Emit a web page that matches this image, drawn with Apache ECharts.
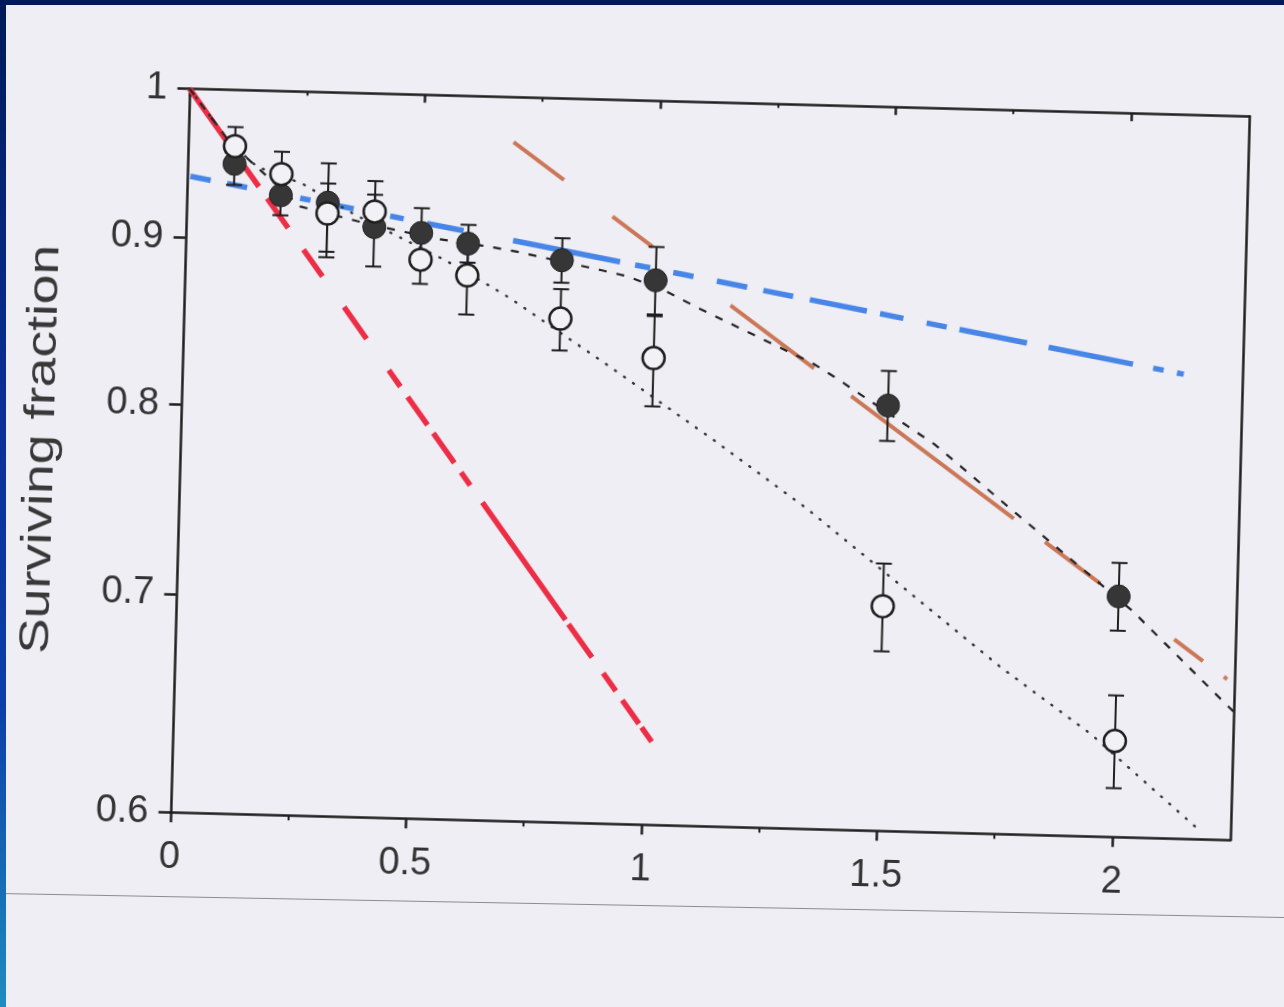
<!DOCTYPE html>
<html>
<head>
<meta charset="utf-8">
<script src="https://cdn.jsdelivr.net/npm/echarts@6/dist/echarts.min.js"></script>
<style>
html,body{margin:0;padding:0;width:1284px;height:1007px;overflow:hidden;background:#eeeef4;}
#frameTop{position:absolute;left:0;top:0;width:1284px;height:5px;background:#001a57;z-index:5;}
#frameLeft{position:absolute;left:0;top:0;width:6px;height:1007px;background:linear-gradient(#001a57 0%,#0a2f96 40%,#0b3fa8 70%,#1f8cc0 100%);z-index:5;}
#fold{position:absolute;left:0;top:893px;width:1290px;height:0;border-top:1.5px solid #8c8c92;transform-origin:0 0;transform:rotate(1.07deg);z-index:4;}
#chart{position:absolute;left:0;top:0;width:1284px;height:1007px;transform-origin:709.75px 464.25px;transform:rotate(1.5deg);}
</style>
</head>
<body>
<div id="chart"></div>
<div id="fold"></div>
<div id="frameTop"></div>
<div id="frameLeft"></div>
<script>
// ---- axis ticks ----
const xTicks = [0, 0.5, 1, 1.5, 2];
const xTickLabels = ['0', '0.5', '1', '1.5', '2'];
const xMinorTicks = [0.25, 0.75, 1.25, 1.75];
const yTicks = [0.6, 0.7, 0.8, 0.9, 1];
const yTickLabels = ['0.6', '0.7', '0.8', '0.9', '1'];

// ---- measured points (dose in Gy) ----
const dose = [0.1, 0.2, 0.3, 0.4, 0.5, 0.6, 0.8, 1.0, 1.5, 2.0];
const filledY  = [0.949, 0.929, 0.925, 0.910, 0.907, 0.901, 0.892, 0.881, 0.810, 0.711];
const filledLo = [0.935, 0.916, 0.8935, 0.885, 0.891, 0.889, 0.878, 0.859, 0.790, 0.694];
const filledHi = [0.963, 0.942, 0.951, 0.940, 0.923, 0.913, 0.906, 0.902, 0.830, 0.728];
const openY    = [0.961, 0.943, 0.918, 0.920, 0.890, 0.881, 0.856, 0.834, 0.703, 0.642];
const openLo   = [0.947, 0.928, 0.890, 0.911, 0.875, 0.857, 0.837, 0.806, 0.681, 0.621];
const openHi   = [0.974, 0.958, 0.9376, 0.931, 0.905, 0.905, 0.874, 0.860, 0.7245, 0.663];

// ---- printed fit curves ----
const dashedFitX = [0, 0.09, 0.242, 0.4, 0.537, 0.654, 0.705, 0.883, 0.94, 1.018, 1.097, 1.34, 1.383, 1.6, 1.78, 2.03, 2.23, 2.25];
const dashedFitY = [1.0, 0.963, 0.922, 0.911, 0.9034, 0.899, 0.8966, 0.8865, 0.883, 0.875, 0.864, 0.833, 0.826, 0.789, 0.752, 0.704, 0.661, 0.657];
const dottedFitX = [0, 0.09, 0.148, 0.245, 0.356, 0.553, 0.635, 0.693, 0.909, 1.132, 1.334, 1.753, 1.948, 2.183];
const dottedFitY = [1.0, 0.963, 0.9475, 0.937, 0.918, 0.890, 0.877, 0.8675, 0.828, 0.788, 0.752, 0.675, 0.645, 0.604];

// ---- hand-drawn marker lines ----
const redX = [0, 1.018];
const redY = [1.0, 0.636];
const blueX = [0.007, 2.126];
const blueY = [0.940, 0.8326];
const brownX = [0.691, 2.235];
const brownY = [0.9687, 0.672];

// dash patterns of the hand-drawn strokes (px)
const redDash = [68.6,20.4,31.2,14.6,36.1,26.6,32.8,37.5,38.9,38.5,20,12.6,34.4,10,36.5,11.6,15.8,21.1,143.9,5.1,40.7,19.4,21.9,11.1,28.9,4.6,17.4,50];
const blueDash = [20.7,16.7,20.4,54.1,10.5,27.2,16.9,37.2,13.8,23.9,37.2,50.4,109.1,15.4,15.3,23.6,20.6,23.8,30.9,16.5,30.4,17,58.2,13.4,23.8,23.7,20.5,13,68.8,22.1,86,20.6,10.7,13.6,6.9,50];
const brownDash = [63,60.7,50.3,97.4,104.6,46.4,203.6,39,69.3,92.5,36,26.2,4,50];

const zip = (xs, ys) => xs.map((x, i) => [x, ys[i]]);
const FONT = 'Liberation Sans, Arial, sans-serif';
const INK = '#1e1e1e';
const LABEL = '#333333';

function labelFrom(vals, labels) {
  return function (v) {
    for (let i = 0; i < vals.length; i++) if (Math.abs(vals[i] - v) < 1e-6) return labels[i];
    return '';
  };
}

function errRender(params, api) {
  const x = api.value(0), lo = api.value(1), hi = api.value(2);
  const a = api.coord([x, lo]), b = api.coord([x, hi]);
  const hw = 8;
  const style = { stroke: INK, lineWidth: 2, fill: null };
  return {
    type: 'group',
    children: [
      { type: 'line', shape: { x1: a[0], y1: a[1], x2: b[0], y2: b[1] }, style: style },
      { type: 'line', shape: { x1: a[0] - hw, y1: a[1], x2: a[0] + hw, y2: a[1] }, style: style },
      { type: 'line', shape: { x1: b[0] - hw, y1: b[1], x2: b[0] + hw, y2: b[1] }, style: style }
    ]
  };
}

const chart = echarts.init(document.getElementById('chart'), null, { renderer: 'canvas' });

const baseX = { type: 'value', min: 0, max: 2.25, splitLine: { show: false }, offset: 0 };
const baseY = { type: 'log', logBase: 10, min: 0.6, max: 1, splitLine: { show: false }, offset: 0 };
const AXW = 2.5;

chart.setOption({
  animation: false,
  backgroundColor: 'transparent',
  grid: { left: 179.75, top: 102.25, width: 1060, height: 724, containLabel: false },
  xAxis: [
    Object.assign({}, baseX, {
      position: 'bottom',
      axisLine: { show: true, onZero: false, lineStyle: { color: INK, width: AXW } },
      axisTick: { show: true, inside: false, length: 10, customValues: xTicks, lineStyle: { color: INK, width: AXW } },
      axisLabel: { show: true, customValues: xTicks, formatter: labelFrom(xTicks, xTickLabels), fontSize: 38, fontFamily: FONT, color: LABEL, margin: 26 }
    }),
    Object.assign({}, baseX, {
      position: 'bottom',
      axisLine: { show: false, onZero: false },
      axisTick: { show: true, inside: false, length: 5, customValues: xMinorTicks, lineStyle: { color: INK, width: 2 } },
      axisLabel: { show: false }
    }),
    Object.assign({}, baseX, {
      position: 'top',
      axisLine: { show: true, onZero: false, lineStyle: { color: INK, width: AXW } },
      axisTick: { show: true, inside: true, length: 8, customValues: xTicks, lineStyle: { color: INK, width: AXW } },
      axisLabel: { show: false }
    }),
    Object.assign({}, baseX, {
      position: 'top',
      axisLine: { show: false, onZero: false },
      axisTick: { show: true, inside: true, length: 4, customValues: xMinorTicks, lineStyle: { color: INK, width: 2 } },
      axisLabel: { show: false }
    })
  ],
  yAxis: [
    Object.assign({}, baseY, {
      position: 'left',
      axisLine: { show: true, onZero: false, lineStyle: { color: INK, width: AXW } },
      axisTick: { show: true, inside: false, length: 12, customValues: yTicks, lineStyle: { color: INK, width: AXW } },
      axisLabel: { show: true, customValues: yTicks, formatter: labelFrom(yTicks, yTickLabels), fontSize: 38, fontFamily: FONT, color: LABEL, margin: 22 }
    }),
    Object.assign({}, baseY, {
      position: 'right',
      axisLine: { show: true, onZero: false, lineStyle: { color: INK, width: AXW } },
      axisTick: { show: false },
      axisLabel: { show: false }
    })
  ],
  graphic: [{
    type: 'text',
    x: 41, y: 467,
    rotation: Math.PI / 2,
    scaleX: 1.27,
    style: { text: 'Surviving fraction', fontSize: 42, fontFamily: FONT, fill: '#383838', align: 'center', verticalAlign: 'middle' }
  }],
  series: [
    { name: 'blue', type: 'line', data: zip(blueX, blueY), symbol: 'none', z: 1,
      lineStyle: { color: '#3d80e6', width: 5.5, type: blueDash, cap: 'butt', opacity: 0.95 } },
    { name: 'brown', type: 'line', data: zip(brownX, brownY), symbol: 'none', z: 1,
      lineStyle: { color: '#c9714f', width: 4, type: brownDash, cap: 'butt', opacity: 0.95 } },
    { name: 'red', type: 'line', data: zip(redX, redY), symbol: 'none', z: 1,
      lineStyle: { color: '#ec2d45', width: 5.5, type: redDash, cap: 'butt' } },
    { name: 'fit dashed', type: 'line', data: zip(dashedFitX, dashedFitY), symbol: 'none', z: 2,
      lineStyle: { color: '#222', width: 2.2, type: [8, 10] } },
    { name: 'fit dotted', type: 'line', data: zip(dottedFitX, dottedFitY), symbol: 'none', z: 2,
      lineStyle: { color: '#333', width: 2.4, type: [1, 10], cap: 'round' } },
    { name: 'filled err', type: 'custom', renderItem: errRender, z: 3,
      data: dose.map((x, i) => [x, filledLo[i], filledHi[i]]), encode: { x: 0, y: [1, 2] } },
    { name: 'open err', type: 'custom', renderItem: errRender, z: 3,
      data: dose.map((x, i) => [x, openLo[i], openHi[i]]), encode: { x: 0, y: [1, 2] } },
    { name: 'filled', type: 'scatter', data: zip(dose, filledY), symbol: 'circle', symbolSize: 23, z: 4,
      itemStyle: { color: '#363636', borderColor: '#222', borderWidth: 1, opacity: 1 } },
    { name: 'open', type: 'scatter', data: zip(dose, openY), symbol: 'circle', symbolSize: 22, z: 5,
      itemStyle: { color: '#f2f2f6', borderColor: '#1e1e1e', borderWidth: 2.5, opacity: 1 } }
  ]
});
</script>
</body>
</html>
